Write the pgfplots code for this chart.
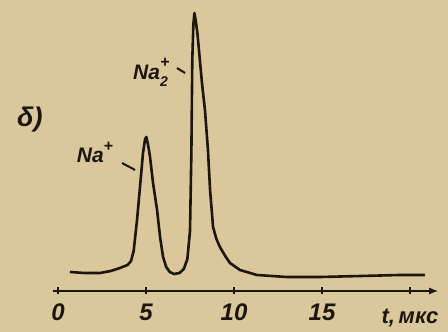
\documentclass[border=0pt]{standalone}
\usepackage{fontspec}
\setmainfont{Liberation Sans}
\usepackage{pgfplots}
\pgfplotsset{compat=1.18}
\usetikzlibrary{arrows.meta}
\definecolor{paper}{HTML}{DAC79B}
\definecolor{ink}{HTML}{1E160C}
\pgfplotstableread{
t y
0.68 19
1.5 18
2.39 18
3.0 20
3.52 23
3.95 26
4.15 30
4.3 40
4.49 71
4.66 104
4.83 138
4.95 152
5.02 154
5.12 146
5.23 134
5.40 108
5.63 81
5.80 54
5.97 34
6.15 24
6.35 19
6.6 17
6.9 18
7.15 22
7.35 32
7.50 60
7.58 141
7.63 231
7.69 266
7.75 278
7.82 271
7.92 258
8.18 208
8.35 181
8.52 141
8.64 101
8.81 64
9.0 52
9.20 44
9.5 35
9.77 28
10.34 21
11.3 16
13.0 14
14.9 14
17.2 15
19.4 16
20.85 16
}\sig
\begin{document}
\begin{tikzpicture}
\fill[paper] (0,0) rectangle (448pt,332pt);
\useasboundingbox (0,0) rectangle (448pt,332pt);
\begin{axis}[
  at={(52.7pt,41pt)}, anchor=south west,
  scale only axis, width=385.5pt, height=291pt,
  xmin=-0.3, xmax=21.6, ymin=0, ymax=291,
  clip=false,
  axis x line=bottom, axis y line=none,
  x axis line style={-{Latex[length=9pt,width=7pt]}, line width=1.5pt, color=ink},
  xtick={0,5,10,15,20},
  xticklabels={0,5,10,15,{}},
  major tick length=7pt, tick align=center,
  x tick style={line width=1.5pt, color=ink},
  /pgf/number format/assume math mode=true,
  xticklabel style={font=\bfseries\itshape\fontsize{24}{24}\selectfont, text=ink, yshift=-6pt},
]
\addplot[ink, line width=2.6pt, line join=round] table[x=t,y=y] {\sig};
\node[text=ink, font=\bfseries\itshape\fontsize{27}{28}\selectfont] at (axis cs:-1.6,171) {δ)};
\node[text=ink, font=\bfseries\itshape\fontsize{21}{22}\selectfont] at (axis cs:2.1,139) {Na\raisebox{1.0ex}{\fontsize{16}{16}\selectfont +}};
\draw[ink, line width=2pt] (axis cs:3.64,128) -- (axis cs:4.38,121);
\node[text=ink, font=\bfseries\itshape\fontsize{21}{22}\selectfont] at (axis cs:5.3,219) {Na\rlap{\raisebox{-0.6ex}{\fontsize{14}{14}\selectfont 2}}\raisebox{1.1ex}{\fontsize{16}{16}\selectfont +}};
\draw[ink, line width=2pt] (axis cs:6.76,223) -- (axis cs:7.22,218);
\node[text=ink, font=\bfseries\itshape\fontsize{22}{24}\selectfont] at (axis cs:20.0,-27) {t,\,мкс};
\end{axis}
\end{tikzpicture}
\end{document}
